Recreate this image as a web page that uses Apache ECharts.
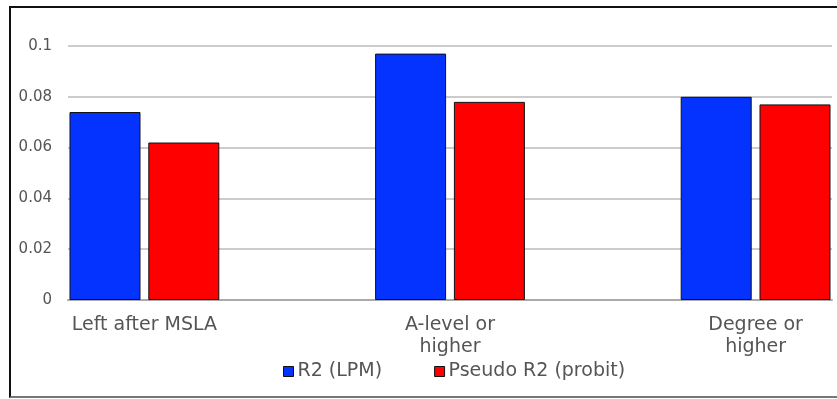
<!DOCTYPE html>
<html><head><meta charset="utf-8">
<script src="https://cdn.jsdelivr.net/npm/echarts@6/dist/echarts.min.js"></script>
<style>
html,body{margin:0;padding:0;background:#fff;}
#frame{position:absolute;left:9px;top:6px;width:840px;height:388px;border-left:2px solid #111;border-top:2px solid #111;border-bottom:2px solid #777;}
#main{position:absolute;left:0;top:0;width:837px;height:399px;}
</style></head>
<body>
<div id="frame"></div>
<div id="main"></div>
<script>
const categories = ["Left after MSLA", "A-level or\nhigher", "Degree or\nhigher"];
const r2LPM = [0.074, 0.097, 0.080];
const pseudoR2Probit = [0.062, 0.078, 0.077];
const yTicks = [0, 0.02, 0.04, 0.06, 0.08, 0.1];

// spacer categories between groups so groups sit where the reference puts them
function spread(arr, filler) {
  const out = [];
  arr.forEach((v, i) => { out.push(v); if (i < arr.length - 1) out.push(filler); });
  return out;
}
const xCats = spread(categories, '');
const font = 'DejaVu Sans';
const chart = echarts.init(document.getElementById('main'));
chart.setOption({
  animation: false,
  backgroundColor: 'transparent',
  grid: { left: 68, right: 5, top: 46, bottom: 99 },
  legend: {
    left: 278, top: 357, itemWidth: 10, itemHeight: 10, itemGap: 52,
    icon: 'rect',
    itemStyle: { borderColor: '#111', borderWidth: 1 },
    textStyle: { fontFamily: font, fontSize: 19, color: '#555', padding: [0, 0, 0, -1] },
    data: ['R2 (LPM)', 'Pseudo R2 (probit)']
  },
  xAxis: {
    type: 'category', data: xCats,
    axisLine: { show: true, lineStyle: { color: '#aaa', width: 2 } },
    axisTick: { show: false },
    axisLabel: { interval: 0, margin: 14, fontFamily: font, fontSize: 19, color: '#555', lineHeight: 22, align: 'center' }
  },
  yAxis: {
    type: 'value', min: yTicks[0], max: yTicks[yTicks.length - 1], interval: 0.02,
    axisLine: { show: false }, axisTick: { show: false },
    axisLabel: { margin: 16, fontFamily: font, fontSize: 15, color: '#555',
      formatter: v => String(+v.toFixed(2)) },
    splitLine: { lineStyle: { color: '#bbb', width: 1.5 } }
  },
  series: [
    { name: 'R2 (LPM)', type: 'bar', data: spread(r2LPM, null), barWidth: 71, barGap: '11%',
      itemStyle: { color: '#0433FF', borderColor: '#111', borderWidth: 1 } },
    { name: 'Pseudo R2 (probit)', type: 'bar', data: spread(pseudoR2Probit, null), barWidth: 71, barGap: '11%',
      itemStyle: { color: '#FF0000', borderColor: '#111', borderWidth: 1 } }
  ]
});
</script>
</body></html>
